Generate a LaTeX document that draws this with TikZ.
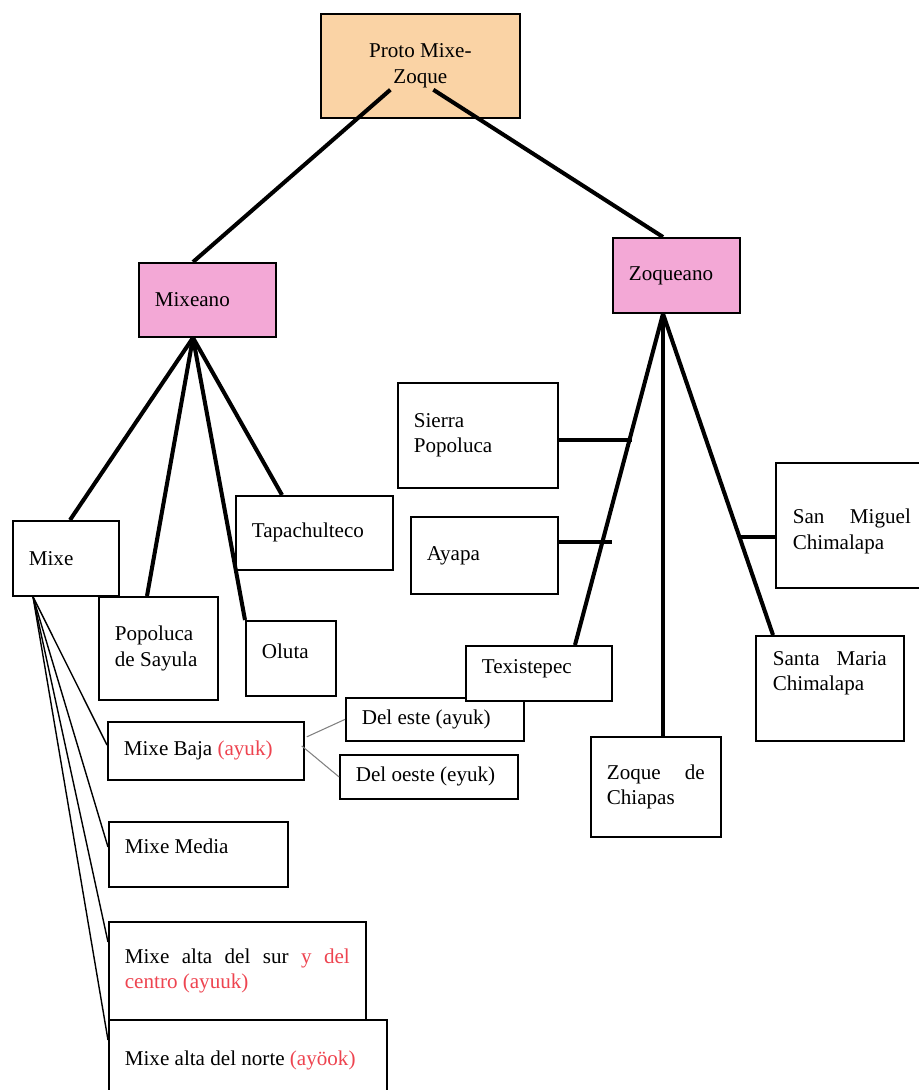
\documentclass[tikz,border=0pt]{standalone}
\usepackage{fontspec}
\setmainfont{Liberation Serif}
\usetikzlibrary{calc}
\definecolor{protofill}{HTML}{FAD3A5}
\definecolor{branchfill}{HTML}{F3A8D6}
\definecolor{redword}{HTML}{EE4450}
\tikzset{%
  % Specifications for style of nodes:
            base/.style = {rectangle, draw=black, line width=1pt,
                           anchor=north west, inner xsep=0.32cm, inner ysep=2pt,
                           align=flush left, font=\fontsize{12}{14.5}\selectfont},
          topbox/.style = {base, fill=protofill, align=center},
       branchbox/.style = {base, fill=branchfill},
         langbox/.style = {base, fill=white},
  % Specifications for style of lines:
           trunk/.style = {line width=2.3pt},
            twig/.style = {line width=0.8pt},
         subtwig/.style = {line width=0.6pt, draw=gray}
}
\begin{document}
\begin{tikzpicture}[x=0.02cm, y=-0.02cm]
  \useasboundingbox (0,0) rectangle (919,1090);
  \clip (0,0) rectangle (919,1090);
  % Specification of nodes (position, etc.)
  \node (proto)         [topbox, minimum width=3.98cm, minimum height=2.08cm] at (320,13) {Proto Mixe-\\Zoque};
  \node (mixeano)       [branchbox, text width=2.10cm, minimum height=1.48cm] at (138,262) {Mixeano};
  \node (zoqueano)      [branchbox, text width=1.90cm, minimum height=1.50cm] at (612,237) {Zoqueano};
  \node (mixe)          [langbox, text width=1.48cm, minimum height=1.50cm] at (12,520) {Mixe};
  \node (popoluca)      [langbox, text width=1.74cm, minimum height=2.06cm] at (98,596) {Popoluca\\de Sayula};
  \node (oluta)         [langbox, text width=1.16cm, minimum height=1.50cm, text depth=8.6pt] at (245,620) {Oluta};
  \node (tapachulteco)  [langbox, text width=2.50cm, minimum height=1.48cm] at (235,495) {Tapachulteco};
  \node (mixebaja)      [langbox, text width=3.28cm, minimum height=1.16cm] at (107,721) {Mixe Baja \textcolor{redword}{(ayuk)}};
  \node (deleste)       [langbox, text width=2.92cm, minimum height=0.86cm] at (345,697) {Del este (ayuk)};
  \node (deloeste)      [langbox, text width=2.92cm, minimum height=0.88cm] at (339,754) {Del oeste (eyuk)};
  \node (mixemedia)     [langbox, text width=2.94cm, minimum height=1.30cm, text depth=9.6pt] at (108,821) {Mixe Media};
  \node (altasur)       [langbox, align=justify, text width=4.50cm, minimum height=1.96cm] at (108,921) {Mixe alta del sur \textcolor{redword}{y del}\linebreak\textcolor{redword}{centro (ayuuk)}};
  \node (altanorte)     [langbox, text width=4.92cm, minimum height=1.62cm] at (108,1019) {Mixe alta del norte \textcolor{redword}{(ayöok)}};
  \node (sierra)        [langbox, text width=2.56cm, minimum height=2.10cm] at (397,382) {Sierra\\Popoluca};
  \node (ayapa)         [langbox, text width=2.30cm, minimum height=1.54cm] at (410,516) {Ayapa};
  \node (texistepec)    [langbox, text width=2.28cm, minimum height=1.10cm, text depth=7.8pt] at (465,645) {Texistepec};
  \node (zoquechiapas)  [langbox, align=justify, text width=1.96cm, minimum height=2.00cm] at (590,736) {Zoque de\linebreak Chiapas};
  \node (sanmiguel)     [langbox, align=justify, text width=2.36cm, inner xsep=0.34cm, minimum height=2.50cm, text height=15pt] at (775,462) {San Miguel\linebreak Chimalapa};
  \node (santamaria)    [langbox, align=justify, text width=2.28cm, inner xsep=0.34cm, minimum height=2.10cm, text depth=34pt] at (755,635) {Santa Maria\linebreak Chimalapa};
  % Proto Mixe-Zoque split
  \draw[trunk]          ($(proto.south)+(-30,-29)$) -- ($(mixeano.north west)+(55,0)$);
  \draw[trunk]          ($(proto.south)+(13,-29)$) -- ($(zoqueano.north west)+(51,0)$);
  % Mixeano branches
  \coordinate (mixeanofoot) at ($(mixeano.south west)+(55,0)$);
  \draw[trunk]          (mixeanofoot) -- ($(mixe.north west)+(58,0)$);
  \draw[trunk]          (mixeanofoot) -- ($(popoluca.north west)+(49,0)$);
  \draw[trunk]          (mixeanofoot) -- (oluta.north west);
  \draw[trunk]          (mixeanofoot) -- ($(tapachulteco.north west)+(47,0)$);
  % Zoqueano branches
  \coordinate (zoqueanofoot) at ($(zoqueano.south west)+(51,0)$);
  \draw[trunk]          (zoqueanofoot) -- ($(texistepec.north west)+(110,0)$);
  \draw[trunk]          (zoqueanofoot) -- ($(zoquechiapas.north west)+(73,0)$);
  \draw[trunk]          (zoqueanofoot) -- ($(santamaria.north west)+(18,0)$);
  \draw[trunk]          ($(sierra.east)+(0,5)$) -- ++(73,0);
  \draw[trunk]          ($(ayapa.east)+(0,-13)$) -- ++(53,0);
  \draw[trunk]          ($(sanmiguel.west)+(0,12)$) -- ++(-35,0);
  % Mixe varieties
  \coordinate (mixefoot) at ($(mixe.south west)+(21,0)$);
  \draw[twig]           (mixefoot) -- ($(mixebaja.north west)+(0,24)$);
  \draw[twig]           (mixefoot) -- ($(mixemedia.north west)+(0,26)$);
  \draw[twig]           (mixefoot) -- ($(altasur.north west)+(0,21)$);
  \draw[twig]           (mixefoot) -- ($(altanorte.north west)+(0,21)$);
  \draw[subtwig]        ($(mixebaja.east)+(2,-14)$) -- (deleste.west);
  \draw[subtwig]        ($(mixebaja.east)+(-3,-5)$) -- (deloeste.west);
\end{tikzpicture}
\end{document}
